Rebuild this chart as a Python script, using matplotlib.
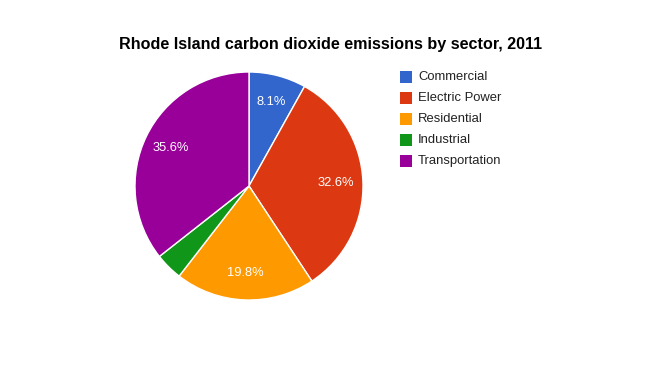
import matplotlib
matplotlib.use("Agg")
import matplotlib.pyplot as plt
from matplotlib.patches import Rectangle

plt.rcParams['font.family'] = ['Liberation Sans', 'DejaVu Sans']

sectors = ["Commercial", "Electric Power", "Residential", "Industrial", "Transportation"]
shares = [8.1, 32.6, 19.8, 3.9, 35.6]
colors = ["#3366cc", "#dc3912", "#ff9900", "#109618", "#990099"]

W, H = 658, 371
fig = plt.figure(figsize=(W / 100, H / 100), dpi=100)

# pie: centre (249,186) px, radius 114 px
cx, cy, r = 249, 186, 114
ax = fig.add_axes([(cx - r) / W, (H - cy - r) / H, 2 * r / W, 2 * r / H])

def pct(p):
    return "%.1f%%" % p if p >= 5 else ""

wedges, texts, autotexts = ax.pie(
    shares, colors=colors, startangle=90, counterclock=False,
    autopct=pct, pctdistance=0.76, radius=1,
    wedgeprops=dict(edgecolor='white', linewidth=1),
    textprops=dict(color='white', fontsize=9.3))
ax.set_xlim(-1, 1)
ax.set_ylim(-1, 1)
ax.axis('off')

fig.text(331 / W, 1 - 44 / H, "Rhode Island carbon dioxide emissions by sector, 2011",
         ha='center', va='center', fontsize=11.6, fontweight='bold', color='black')

# legend
for i, (name, c) in enumerate(zip(sectors, colors)):
    y = 77 + 21 * i
    fig.patches.append(Rectangle((400 / W, 1 - (y + 6) / H), 12 / W, 12 / H,
                                 transform=fig.transFigure, facecolor=c, edgecolor='none'))
    fig.text(418 / W, 1 - y / H, name, ha='left', va='center', fontsize=9.4, color='#222222')

fig.savefig("out.png", dpi=100)
